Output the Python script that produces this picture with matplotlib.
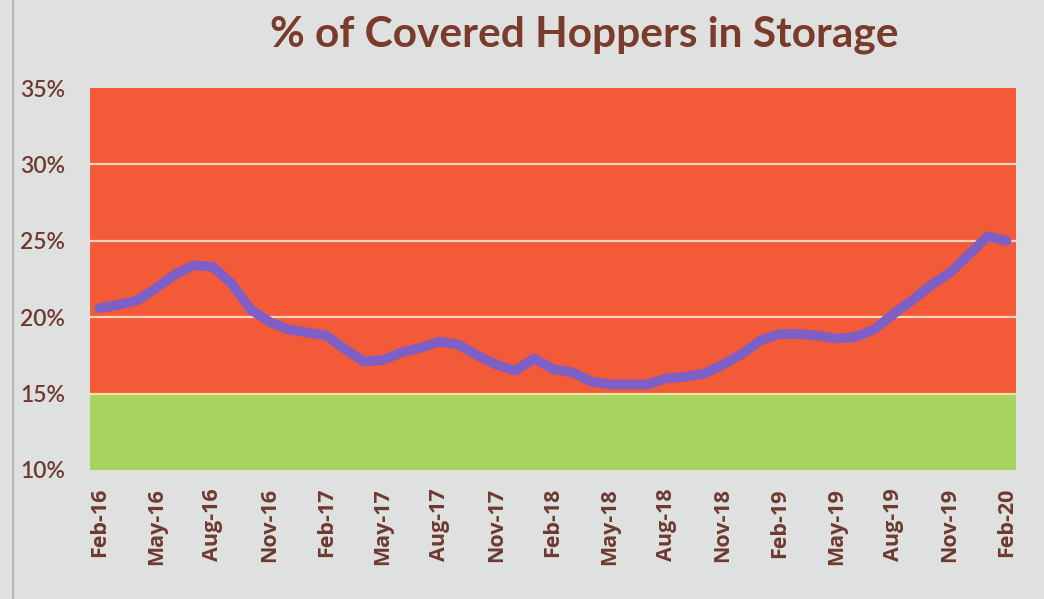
import matplotlib
matplotlib.use("Agg")
import matplotlib.pyplot as plt
from matplotlib.lines import Line2D

months = ["Feb-16","Mar-16","Apr-16","May-16","Jun-16","Jul-16","Aug-16","Sep-16","Oct-16","Nov-16","Dec-16","Jan-17",
          "Feb-17","Mar-17","Apr-17","May-17","Jun-17","Jul-17","Aug-17","Sep-17","Oct-17","Nov-17","Dec-17","Jan-18",
          "Feb-18","Mar-18","Apr-18","May-18","Jun-18","Jul-18","Aug-18","Sep-18","Oct-18","Nov-18","Dec-18","Jan-19",
          "Feb-19","Mar-19","Apr-19","May-19","Jun-19","Jul-19","Aug-19","Sep-19","Oct-19","Nov-19","Dec-19","Jan-20",
          "Feb-20"]
pct_storage = [20.6, 20.8, 21.1, 21.9, 22.8, 23.4, 23.3, 22.2, 20.5, 19.7, 19.2, 19.0,
               18.8, 17.9, 17.1, 17.2, 17.7, 18.0, 18.4, 18.2, 17.5, 16.9, 16.5, 17.3,
               16.6, 16.4, 15.8, 15.6, 15.6, 15.6, 16.0, 16.1, 16.3, 16.9, 17.6, 18.5,
               18.9, 18.9, 18.8, 18.6, 18.7, 19.2, 20.2, 21.1, 22.1, 22.9, 24.1, 25.3,
               25.0]
y_ticks = [10, 15, 20, 25, 30, 35]
title = "% of Covered Hoppers in Storage"

bg = "#dfe0e0"
text_col = "#6e3a30"

fig = plt.figure(figsize=(10.44, 5.99), dpi=100, facecolor=bg)
ax = fig.add_axes([0.0862, 0.2154, 0.8870, 0.6376])
ax.set_facecolor(bg)

x = list(range(len(months)))
ax.axhspan(15, 35, color="#f25a38", zorder=0, lw=0)
ax.axhspan(10, 15, color="#a8d462", zorder=0, lw=0)
for g in [20, 25, 30]:
    ax.axhline(g, color="#ffd2bd", lw=1.6, zorder=1)
ax.axhline(15, color="#f3e2a0", lw=1.6, zorder=1)

ax.plot(x, pct_storage, color="#7d5fc6", lw=7, solid_capstyle="round",
        solid_joinstyle="round", zorder=3)

ax.set_xlim(-0.5, len(months) - 0.5)
ax.set_ylim(10, 35)
ax.set_yticks(y_ticks)
ax.set_yticklabels([f"{v}%" for v in y_ticks])
tick_idx = list(range(0, len(months), 3))
ax.set_xticks(tick_idx)
ax.set_xticklabels([months[i] for i in tick_idx], rotation=90)

for s in ax.spines.values():
    s.set_visible(False)
ax.tick_params(axis="both", length=0, colors=text_col)
ax.tick_params(axis="y", pad=18)
ax.tick_params(axis="x", pad=13)
for lab in ax.get_yticklabels():
    lab.set_fontfamily("Lato")
    lab.set_fontsize(16.5)
    lab.set_fontweight("semibold")
for lab in ax.get_xticklabels():
    lab.set_fontfamily("Open Sans")
    lab.set_fontsize(15.5)
    lab.set_fontweight("bold")

fig.text(0.56, 0.942, title, ha="center", va="center", fontsize=30.5,
         fontweight="bold", family="Lato", color="#7a3a2c")

fig.add_artist(Line2D([0.012, 0.012], [0, 1], transform=fig.transFigure,
                      color="#b8b8b8", lw=1.5))

fig.savefig("out.png", dpi=100, facecolor=bg)
